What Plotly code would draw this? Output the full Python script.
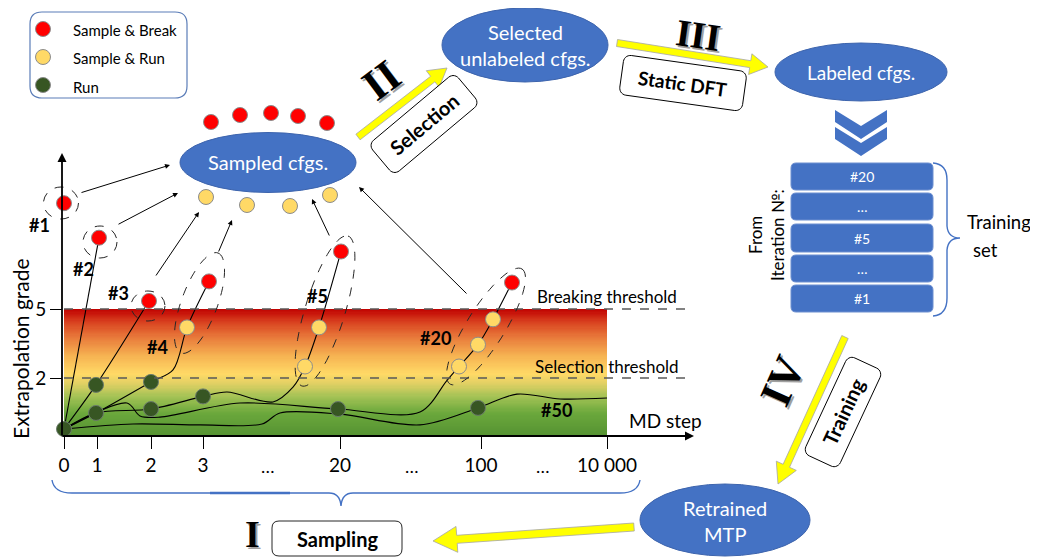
import numpy as np
import plotly.graph_objects as go

# The page body has an 8px margin; the figure is sized/offset to compensate.
OFF = 8
W, H = 1038 - OFF, 560 - OFF
FONT = "Lato"
SERIF = "Liberation Serif"
BLUE = "#4472c4"

# ---------------- chart data (MD position, extrapolation grade) ----------------
md_tick_pos = [0, 33, 87, 139, 276, 417, 543]
md_tick_text = ["0", "1", "2", "3", "20", "100", "10 000"]
md_ellipsis_pos = [204, 348, 479]
md_end = 543
grade_tick_vals = [2, 5]
grade_tick_text = ["2", "5"]
breaking_threshold = 5
selection_threshold = 2
grade_floor = -0.5

break_pos = [0, 35, 85, 145, 277, 448]
break_grade = [9.6, 8.1, 5.35, 6.2, 7.5, 6.15]
samplerun_pos = [123, 241, 255, 395, 414, 429]
samplerun_grade = [4.2, 2.5, 4.2, 2.5, 3.45, 4.55]
run_pos = [0, 32, 32, 87, 87, 139, 274, 414]
run_grade = [-0.22, 1.7, 0.48, 1.83, 0.65, 1.2, 0.65, 0.7]

# trajectories
traj2_pos = [0, 35]
traj2_grade = [-0.22, 8.1]
traj3_pos = [0, 32, 85]
traj3_grade = [-0.22, 1.7, 5.35]
traj4_pos = [0, 32, 87, 109, 123, 145]
traj4_grade = [-0.22, 0.48, 1.83, 2.35, 4.2, 6.2]
traj5_pos = [0, 32, 87, 139, 163, 209, 229, 241, 255, 277]
traj5_grade = [-0.22, 0.48, 0.65, 1.2, 1.39, 0.96, 1.6, 2.5, 4.2, 7.5]
traj20_pos = [0, 63, 76, 96, 176, 274, 356, 383, 395, 414, 429, 448]
traj20_grade = [-0.22, 0.91, 0.35, 0.3, 0.91, 0.65, 0.52, 1.9, 2.5, 3.45, 4.55, 6.15]
traj50_pos = [0, 69, 136, 198, 216, 276, 356, 414, 453, 496, 543]
traj50_grade = [-0.22, 0.0, -0.04, 0.0, 0.48, 0.43, -0.04, 0.7, 1.3, 1.09, 1.13]

# ---------------- diagram content ----------------
legend_labels = ["Sample & Break", "Sample & Run", "Run"]
training_rows = ["#20", "…", "#5", "…", "#1"]
sampled_break_x = [211, 240, 271, 298, 327]
sampled_break_y = [122, 115, 113, 116, 123]
sampled_run_x = [206, 247, 290, 330]
sampled_run_y = [197, 205, 206, 195]

RED, YEL, GRN = "#ff0000", "#ffd966", "#375623"

fig = go.Figure()

# gradient band
gy = np.linspace(grade_floor, breaking_threshold, 111)
zc = ((gy[:-1] + gy[1:]) / 2).reshape(-1, 1)
cs = [[0.0, "#559232"], [0.18, "#6ba83c"], [0.31, "#a3c255"], [0.41, "#e0d064"],
      [0.49, "#ffd966"], [0.63, "#f6b352"], [0.78, "#e8783a"], [0.9, "#d8401f"], [1.0, "#c00000"]]
fig.add_trace(go.Heatmap(x=[0, md_end], y=gy, z=zc, colorscale=cs, zmin=grade_floor,
                         zmax=breaking_threshold, showscale=False, hoverinfo="skip",
                         xaxis="x2", yaxis="y2"))

for px_, gy_ in [(traj2_pos, traj2_grade), (traj3_pos, traj3_grade), (traj4_pos, traj4_grade),
                 (traj5_pos, traj5_grade), (traj20_pos, traj20_grade), (traj50_pos, traj50_grade)]:
    fig.add_trace(go.Scatter(x=px_, y=gy_, mode="lines", xaxis="x2", yaxis="y2",
                             line=dict(color="black", width=1.1, shape="spline", smoothing=0.9),
                             hoverinfo="skip", showlegend=False))

def mk(color, edge):
    return dict(size=15, color=color, line=dict(color=edge, width=1))

fig.add_trace(go.Scatter(x=run_pos, y=run_grade, mode="markers", xaxis="x2", yaxis="y2",
                         marker=mk(GRN, "#6b7b6b"), hoverinfo="skip", showlegend=False))
fig.add_trace(go.Scatter(x=samplerun_pos, y=samplerun_grade, mode="markers", xaxis="x2", yaxis="y2",
                         marker=mk(YEL, "#8c8c8c"), hoverinfo="skip", showlegend=False))
fig.add_trace(go.Scatter(x=break_pos, y=break_grade, mode="markers", xaxis="x2", yaxis="y2",
                         marker=mk(RED, "#8c8c8c"), hoverinfo="skip", showlegend=False))

# sampled configurations around the ellipse + legend dots (pixel axes)
fig.add_trace(go.Scatter(x=sampled_break_x, y=sampled_break_y, mode="markers",
                         marker=mk(RED, "#8c8c8c"), hoverinfo="skip", showlegend=False))
fig.add_trace(go.Scatter(x=sampled_run_x, y=sampled_run_y, mode="markers",
                         marker=mk(YEL, "#8c8c8c"), hoverinfo="skip", showlegend=False))
fig.add_trace(go.Scatter(x=[43, 43, 43], y=[29, 57, 85], mode="markers",
                         marker=dict(size=15, color=[RED, YEL, GRN], line=dict(color="#8c8c8c", width=1)),
                         hoverinfo="skip", showlegend=False))

shapes = []
ann = []

def rrect_path(x0, y0, x1, y1, r):
    return (f"M{x0+r},{y0} L{x1-r},{y0} Q{x1},{y0} {x1},{y0+r} L{x1},{y1-r} Q{x1},{y1} {x1-r},{y1} "
            f"L{x0+r},{y1} Q{x0},{y1} {x0},{y1-r} L{x0},{y0+r} Q{x0},{y0} {x0+r},{y0} Z")

def rot_rrect_path(cx, cy, w, h, r, ang):
    pts = []
    hw, hh = w / 2 - r, h / 2 - r
    for (ccx, ccy, a0) in [(hw, -hh, -90), (hw, hh, 0), (-hw, hh, 90), (-hw, -hh, 180)]:
        for t in np.linspace(a0, a0 + 90, 8):
            pts.append((ccx + r * np.cos(np.radians(t)), ccy + r * np.sin(np.radians(t))))
    th = np.radians(ang)
    out = [(cx + x * np.cos(th) - y * np.sin(th), cy + x * np.sin(th) + y * np.cos(th)) for x, y in pts]
    return "M" + " L".join(f"{x:.1f},{y:.1f}" for x, y in out) + " Z"

def ellipse_path(p0, p1, b, n=72):
    cx, cy = (p0[0] + p1[0]) / 2, (p0[1] + p1[1]) / 2
    dx, dy = p1[0] - p0[0], p1[1] - p0[1]
    a = np.hypot(dx, dy) / 2
    ux, uy = dx / (2 * a), dy / (2 * a)
    vx, vy = -uy, ux
    t = np.linspace(0, 2 * np.pi, n)
    xs = cx + a * np.cos(t) * ux + b * np.sin(t) * vx
    ys = cy + a * np.cos(t) * uy + b * np.sin(t) * vy
    return "M" + " L".join(f"{x:.1f},{y:.1f}" for x, y in zip(xs, ys)) + " Z"

def arrow_poly(tail, tip, sw, hw, hl):
    tx, ty = tail; hx, hy = tip
    L = np.hypot(hx - tx, hy - ty)
    ux, uy = (hx - tx) / L, (hy - ty) / L
    vx, vy = -uy, ux
    bx, by = hx - ux * hl, hy - uy * hl
    pts = [(tx + vx * sw / 2, ty + vy * sw / 2), (bx + vx * sw / 2, by + vy * sw / 2),
           (bx + vx * hw / 2, by + vy * hw / 2), (hx, hy),
           (bx - vx * hw / 2, by - vy * hw / 2), (bx - vx * sw / 2, by - vy * sw / 2),
           (tx - vx * sw / 2, ty - vy * sw / 2)]
    return "M" + " L".join(f"{x:.1f},{y:.1f}" for x, y in pts) + " Z"

# threshold dashed lines (chart axes)
for g in [breaking_threshold, selection_threshold]:
    shapes.append(dict(type="line", xref="x2", yref="y2", x0=0, x1=626, y0=g, y1=g,
                       line=dict(color="#595959", width=1.3, dash="dash")))

# dashed circles / ellipses around iterations
for cx, cy, rx, ry in [(61, 203, 17.5, 16), (100, 242, 17, 16), (148, 306, 17, 15)]:
    shapes.append(dict(type="circle", xref="x", yref="y", x0=cx - rx, x1=cx + rx, y0=cy - ry, y1=cy + ry,
                       line=dict(color="#262626", width=1, dash="dash")))
for p0, p1, b in [((181, 353), (218, 253), 18), ((302, 386), (348, 236), 20), ((450, 384), (522, 269), 19)]:
    shapes.append(dict(type="path", xref="x", yref="y", path=ellipse_path(p0, p1, b),
                       line=dict(color="#262626", width=1, dash="dash")))

# legend box
shapes.append(dict(type="path", xref="x", yref="y", path=rrect_path(30, 12, 187, 98, 12),
                   line=dict(color="#5b7db8", width=1.2)))

# blue ellipses
for cx, cy, rx, ry in [(268, 162.5, 88, 30), (525, 45, 83, 37), (861, 72, 86, 29), (725, 520, 85, 36)]:
    shapes.append(dict(type="circle", xref="x", yref="y", x0=cx - rx, x1=cx + rx, y0=cy - ry, y1=cy + ry,
                       fillcolor=BLUE, line=dict(color="#3d64ad", width=1)))

# chevrons
for off in [0, 17]:
    p = f"M835,{110+off} L861,{126+off} L887,{110+off} L887,{122+off} L861,{139+off} L835,{122+off} Z"
    shapes.append(dict(type="path", xref="x", yref="y", path=p, fillcolor=BLUE, line=dict(width=0)))

# training set boxes
row_y = [(163, 190), (193, 220), (224, 252), (255, 282), (285, 312)]
for (y0, y1), lab in zip(row_y, training_rows):
    shapes.append(dict(type="path", xref="x", yref="y", path=rrect_path(791, y0, 933, y1, 5),
                       fillcolor=BLUE, line=dict(color="#6d8fd0", width=1)))
    ann.append(dict(x=862, y=(y0 + y1) / 2, xref="x", yref="y", text=lab, showarrow=False,
                    font=dict(family=FONT, size=14, color="white")))

# braces
shapes.append(dict(type="path", xref="x", yref="y", line=dict(color=BLUE, width=1.4),
                   path="M52,480 Q54,493 72,493 L329,493 Q340,493 341,506 Q342,493 353,493 L620,493 Q638,493 640,480"))
shapes.append(dict(type="line", xref="x", yref="y", x0=210, x1=290, y0=493, y1=493,
                   line=dict(color=BLUE, width=2.5)))
shapes.append(dict(type="path", xref="x", yref="y", line=dict(color=BLUE, width=1.4),
                   path="M933,163 Q947,164 947,180 L947,226 Q948,238 960,238 Q948,238 947,250 L947,298 Q947,315 933,316"))

# yellow arrows
for tail, tip, sw, hw, hl in [((358, 137), (447, 68), 7, 21, 18), ((617, 43), (768, 67), 7, 21, 18),
                              ((845, 337), (778, 484), 7, 22, 20), ((634, 527), (433, 541), 8, 26, 24)]:
    shapes.append(dict(type="path", xref="x", yref="y", path=arrow_poly(tail, tip, sw, hw, hl),
                       fillcolor="#ffff00", line=dict(color="#a6a6a6", width=0.8)))

# label boxes
for cx, cy, w, h, ang in [(424, 124, 112, 40, -40), (683, 83, 124, 40, 8), (843, 412, 108, 38, -65)]:
    shapes.append(dict(type="path", xref="x", yref="y", path=rot_rrect_path(cx, cy, w, h, 7, ang),
                       fillcolor="white", line=dict(color="black", width=1)))
shapes.append(dict(type="path", xref="x", yref="y", path=rrect_path(272, 521, 402, 556, 7),
                   fillcolor="white", line=dict(color="#262626", width=1)))

def txt(x, y, s, size, color="black", bold=False, angle=0, xanchor="center", family=FONT):
    ann.append(dict(x=x, y=y, xref="x", yref="y", text=f"<b>{s}</b>" if bold else s, showarrow=False,
                    textangle=angle, xanchor=xanchor, font=dict(family=family, size=size, color=color)))

# box label texts
txt(424, 124, "Selection", 20, bold=True, angle=-40)
txt(683, 83, "Static DFT", 19, bold=True, angle=8)
txt(843, 412, "Training", 20, bold=True, angle=-65)
txt(337, 539, "Sampling", 20, bold=True)

# roman numerals with shadow
for x, y, s, ang, fs in [(381, 80, "II", -37, 44), (698, 35, "III", 8, 38), (782, 381, "IV", -66, 44),
                         (252, 534, "I", 0, 38)]:
    txt(x + 2, y + 2, s, fs, color="#a0a0a0", bold=True, angle=ang, family=SERIF)
    txt(x, y, s, fs, color="black", bold=True, angle=ang, family=SERIF)

# ellipse texts
txt(268, 162, "Sampled cfgs.", 20, color="white")
txt(525, 32, "Selected", 20, color="white")
txt(525, 58, "unlabeled cfgs.", 20, color="white")
txt(861, 72, "Labeled cfgs.", 19, color="white")
txt(725, 508, "Retrained", 20, color="white")
txt(725, 534, "MTP", 20, color="white")

# legend texts
for yy, lab in zip([30, 58, 87], legend_labels):
    txt(71, yy, lab, 15, xanchor="left")

# training set texts
txt(755, 235, "From", 17, angle=-90)
txt(777, 235, "Iteration №:", 17, angle=-90)
txt(965, 222, "Training", 18.5, xanchor="left")
txt(971, 250, "set", 18.5, xanchor="left")

# chart texts
txt(20, 349, "Extrapolation grade", 21, angle=-90)
txt(665, 420, "MD step", 19)
txt(607, 296, "Breaking threshold", 17)
txt(607, 366, "Selection threshold", 17)
for x, y, s in [(39, 225, "#1"), (83, 269, "#2"), (118, 293, "#3"), (157, 347, "#4"),
                (317, 296, "#5"), (435, 338, "#20"), (556, 410, "#50")]:
    txt(x, y, s, 18, bold=True)
for p in md_ellipsis_pos:
    ann.append(dict(x=p, y=466, xref="x2", yref="y", text="…", showarrow=False,
                    font=dict(family=FONT, size=18, color="black")))

# axes arrows
ann.append(dict(x=62, y=153, ax=62, ay=437, xref="x", yref="y", axref="x", ayref="y", text="",
                showarrow=True, arrowhead=2, arrowsize=1, arrowwidth=1.8, arrowcolor="black"))
ann.append(dict(x=694, y=436, ax=61, ay=436, xref="x", yref="y", axref="x", ayref="y", text="",
                showarrow=True, arrowhead=2, arrowsize=1, arrowwidth=1.8, arrowcolor="black"))

# thin arrows into "Sampled cfgs."
for tail, tip in [((80, 193), (170, 165)), ((117, 225), (178, 193)), ((155, 277), (199, 212)),
                  ((218, 253), (232, 220)), ((330, 237), (312, 199)), ((468, 295), (359, 187))]:
    ann.append(dict(x=tip[0], y=tip[1], ax=tail[0], ay=tail[1], xref="x", yref="y", axref="x", ayref="y",
                    text="", showarrow=True, arrowhead=2, arrowsize=1, arrowwidth=1, arrowcolor="black"))

# chart-axis geometry (reference pixels): origin x=64, grade g at y = 424 - 23 g
X0, Y0, PPG = 64, 424, 23
fig.update_layout(
    width=W, height=H, margin=dict(l=0, r=0, t=0, b=0), autosize=False,
    paper_bgcolor="white", plot_bgcolor="white", showlegend=False,
    xaxis=dict(range=[OFF, OFF + W], visible=False, fixedrange=True),
    yaxis=dict(range=[OFF + H, OFF], visible=False, fixedrange=True),
    xaxis2=dict(overlaying="x", range=[OFF - X0, OFF + W - X0], anchor="free",
                position=1 - (436 - OFF) / H,
                tickvals=md_tick_pos, ticktext=md_tick_text, ticks="outside", ticklen=12,
                tickwidth=1, tickcolor="black", showline=False, showgrid=False, zeroline=False,
                tickfont=dict(family=FONT, size=19, color="black")),
    yaxis2=dict(overlaying="y", range=[(Y0 - OFF - H) / PPG, (Y0 - OFF) / PPG], anchor="free",
                position=(62 - OFF) / W,
                tickvals=grade_tick_vals, ticktext=grade_tick_text, ticks="outside", ticklen=12,
                tickwidth=1, tickcolor="black", showline=False, showgrid=False, zeroline=False,
                tickfont=dict(family=FONT, size=19, color="black")),
    shapes=shapes, annotations=ann,
)

fig.write_html("out.html")
